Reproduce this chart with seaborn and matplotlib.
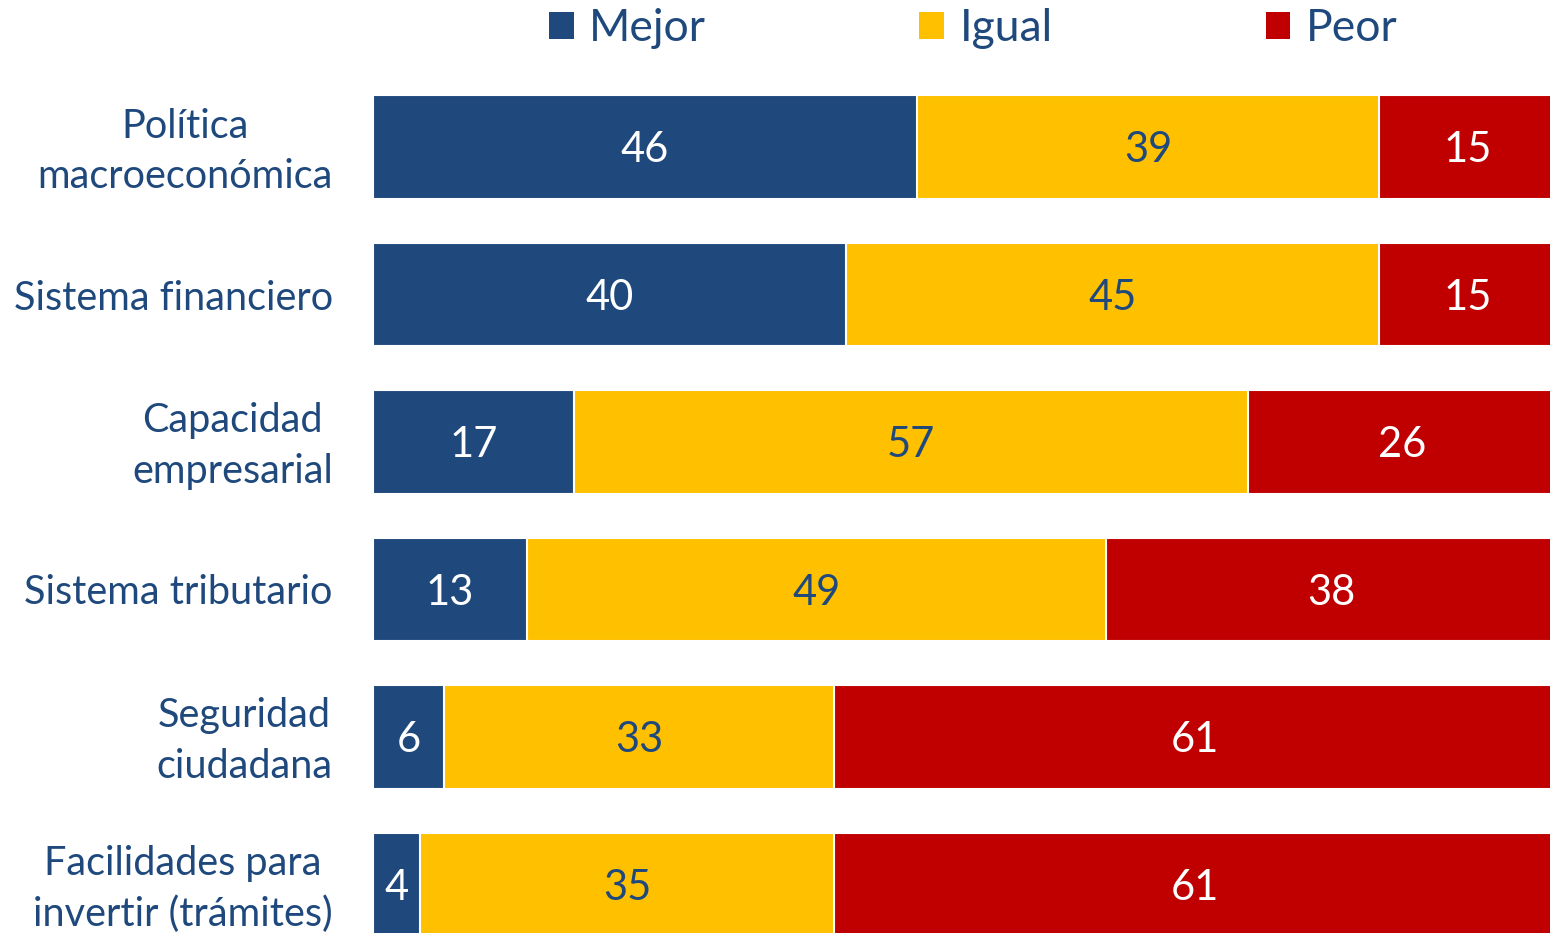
import matplotlib
matplotlib.use("Agg")
import matplotlib.pyplot as plt
import matplotlib.transforms as mtransforms
import seaborn as sns
import pandas as pd
import numpy as np
from matplotlib.patches import Patch

categories = ["Política\nmacroeconómica", "Sistema financiero", "Capacidad\nempresarial",
              "Sistema tributario", "Seguridad\nciudadana", "Facilidades para\ninvertir (trámites)"]
mejor = [46, 40, 17, 13, 6, 4]
igual = [39, 45, 57, 49, 33, 35]
peor = [15, 15, 26, 38, 61, 61]
series_names = ["Mejor", "Igual", "Peor"]

BLUE = "#1F497D"
YELLOW = "#FFC000"
RED = "#C00000"
TEXT = "#1F497D"

sns.set_style("white")
plt.rcParams['font.family'] = ['Lato', 'DejaVu Sans']

df = pd.DataFrame({"cat": categories, "Mejor": mejor, "Igual": igual, "Peor": peor})
df["c1"] = df["Mejor"]
df["c2"] = df["Mejor"] + df["Igual"]
df["c3"] = df["c2"] + df["Peor"]

fig = plt.figure(figsize=(15.5, 9.33), dpi=100)
ax = fig.add_axes([373/1550, 0, 1183/1550, 1])

for col, color in [("c3", RED), ("c2", YELLOW), ("c1", BLUE)]:
    sns.barplot(data=df, y="cat", x=col, orient="h", color=color, saturation=1,
                width=0.7, errorbar=None, edgecolor="white", linewidth=1.5, ax=ax)

for i, row in df.iterrows():
    segs = [(0, row["Mejor"], "white"), (row["c1"], row["Igual"], TEXT), (row["c2"], row["Peor"], "white")]
    for left, val, tc in segs:
        ax.text(left + val / 2, i, f"{val}", ha="center", va="center_baseline", color=tc, fontsize=30)

ax.set_xlim(0, 100)
ax.set_ylim((933 - 147) / 147.5, -147 / 147.5)
ax.set_xlabel("")
ax.set_ylabel("")
ax.set_xticks([])
ax.tick_params(axis="y", length=0, pad=29, labelsize=28.5, labelcolor=TEXT)
shift_up = mtransforms.ScaledTranslation(0, 6 / 100, fig.dpi_scale_trans)
for lbl in ax.get_yticklabels():
    lbl.set_multialignment("center")
    lbl.set_linespacing(1.45)
    if "\n" in lbl.get_text():
        lbl.set_transform(lbl.get_transform() + shift_up)
for s in ax.spines.values():
    s.set_visible(False)

handles = [Patch(facecolor=c, edgecolor="none") for c in (BLUE, YELLOW, RED)]
leg = fig.legend(handles, series_names, loc="center", bbox_to_anchor=(0.628, 0.969), ncol=3,
                 frameon=False, fontsize=32, handlelength=0.55, handleheight=0.55,
                 handletextpad=0.35, columnspacing=4.8)
for t in leg.get_texts():
    t.set_color(TEXT)

fig.savefig("out.png", dpi=100)
